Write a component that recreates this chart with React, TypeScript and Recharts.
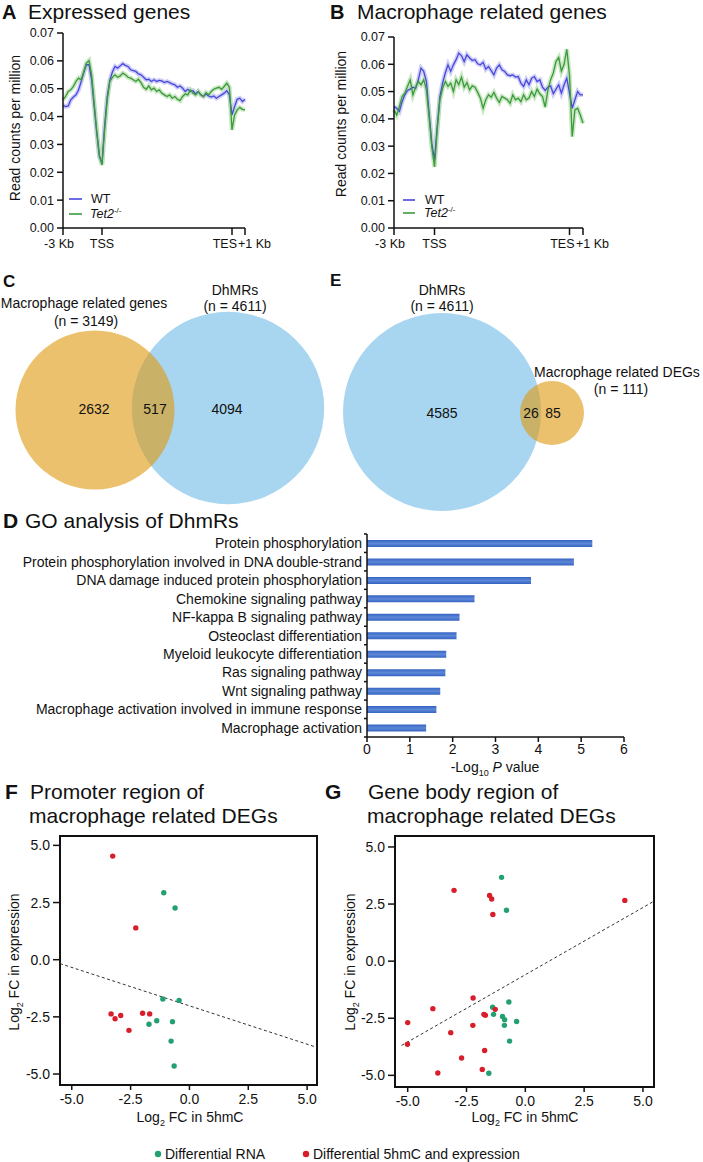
import React from 'react'
import {
  LineChart, Line, BarChart, Bar, ScatterChart, Scatter, XAxis, YAxis, ZAxis,
  ReferenceLine, ReferenceArea,
} from 'recharts'

const FONT = '"Liberation Sans", Arial, Helvetica, sans-serif'
const INK = '#111111'
const WT_BLUE = '#4747e0'
const WT_BAND = '#bdbdf3'
const TET_GREEN = '#3b9a3b'
const TET_BAND = '#b5dfae'
const VENN_BLUE = '#a8d6f0'
const VENN_ORANGE = '#df980d' // painted at 0.6 opacity, reads as light orange / olive overlap
const RNA_GREEN = '#23a070'
const BOTH_RED = '#d81e2a'

// ---- A / B: read density profiles. bins: -3 Kb..TSS = 0..30, gene body 30..130, TES..+1 Kb 130..140
const profileBins = [
  0, 2, 4, 6, 8, 10, 12, 14, 16, 18,
  20, 22, 24, 26, 28, 30, 32, 34, 36, 38,
  40, 42, 44, 46, 48, 50, 52, 54, 56, 58,
  60, 62, 64, 66, 68, 70, 72, 74, 76, 78,
  80, 82, 84, 86, 88, 90, 92, 94, 96, 98,
  100, 102, 104, 106, 108, 110, 112, 114, 116, 118,
  120, 122, 124, 126, 128, 130, 132, 134, 136, 138,
  140,
]
const regionTicks = [0, 30, 130, 140]
const regionTickLabels = ['-3 Kb', 'TSS', 'TES', '+1 Kb']
const rpmTicks = [0, 0.01, 0.02, 0.03, 0.04, 0.05, 0.06, 0.07]

const expressedWT = [
  0.0440, 0.0436, 0.0438, 0.0460, 0.0470, 0.0478, 0.0496, 0.0526, 0.0558, 0.0586,
  0.0586, 0.0532, 0.0436, 0.0340, 0.0256, 0.0232, 0.0364, 0.0470, 0.0530, 0.0560,
  0.0580, 0.0574, 0.0582, 0.0590, 0.0584, 0.0580, 0.0568, 0.0565, 0.0562, 0.0553,
  0.0550, 0.0541, 0.0532, 0.0534, 0.0526, 0.0532, 0.0526, 0.0530, 0.0528, 0.0522,
  0.0526, 0.0522, 0.0517, 0.0514, 0.0505, 0.0510, 0.0502, 0.0490, 0.0498, 0.0490,
  0.0493, 0.0481, 0.0490, 0.0478, 0.0472, 0.0481, 0.0474, 0.0470, 0.0474, 0.0466,
  0.0472, 0.0478, 0.0484, 0.0493, 0.0478, 0.0406, 0.0436, 0.0462, 0.0466, 0.0454,
  0.0462,
]
const expressedTet2 = [
  0.0460, 0.0472, 0.0490, 0.0496, 0.0508, 0.0526, 0.0538, 0.0532, 0.0562, 0.0592,
  0.0601, 0.0550, 0.0448, 0.0346, 0.0262, 0.0226, 0.0352, 0.0460, 0.0526, 0.0541,
  0.0550, 0.0541, 0.0546, 0.0556, 0.0550, 0.0541, 0.0538, 0.0532, 0.0526, 0.0534,
  0.0522, 0.0505, 0.0498, 0.0510, 0.0496, 0.0502, 0.0490, 0.0496, 0.0484, 0.0478,
  0.0472, 0.0478, 0.0466, 0.0472, 0.0462, 0.0457, 0.0472, 0.0481, 0.0478, 0.0496,
  0.0484, 0.0478, 0.0490, 0.0478, 0.0472, 0.0486, 0.0478, 0.0490, 0.0498, 0.0502,
  0.0505, 0.0498, 0.0508, 0.0520, 0.0505, 0.0352, 0.0406, 0.0424, 0.0433, 0.0426,
  0.0424,
]
const macrophageWT = [
  0.0445, 0.0439, 0.0427, 0.0463, 0.0488, 0.0504, 0.0509, 0.0516, 0.0512, 0.0543,
  0.0586, 0.0574, 0.0537, 0.0420, 0.0310, 0.0251, 0.0371, 0.0482, 0.0531, 0.0568,
  0.0598, 0.0574, 0.0598, 0.0617, 0.0641, 0.0631, 0.0610, 0.0635, 0.0623, 0.0614,
  0.0617, 0.0602, 0.0598, 0.0607, 0.0582, 0.0592, 0.0577, 0.0561, 0.0586, 0.0598,
  0.0580, 0.0574, 0.0561, 0.0558, 0.0561, 0.0553, 0.0555, 0.0531, 0.0519, 0.0543,
  0.0525, 0.0549, 0.0555, 0.0537, 0.0543, 0.0516, 0.0504, 0.0516, 0.0521, 0.0492,
  0.0509, 0.0525, 0.0494, 0.0525, 0.0549, 0.0494, 0.0439, 0.0470, 0.0500, 0.0488,
  0.0488,
]
const macrophageTet2 = [
  0.0433, 0.0414, 0.0445, 0.0482, 0.0494, 0.0519, 0.0543, 0.0488, 0.0516, 0.0537,
  0.0525, 0.0543, 0.0506, 0.0408, 0.0298, 0.0224, 0.0359, 0.0470, 0.0512, 0.0537,
  0.0519, 0.0531, 0.0500, 0.0543, 0.0525, 0.0553, 0.0516, 0.0533, 0.0506, 0.0521,
  0.0516, 0.0497, 0.0476, 0.0439, 0.0470, 0.0488, 0.0479, 0.0497, 0.0476, 0.0460,
  0.0482, 0.0476, 0.0470, 0.0457, 0.0488, 0.0470, 0.0476, 0.0463, 0.0488, 0.0470,
  0.0476, 0.0500, 0.0482, 0.0509, 0.0492, 0.0482, 0.0443, 0.0506, 0.0543, 0.0568,
  0.0610, 0.0625, 0.0575, 0.0600, 0.0655, 0.0560, 0.0335, 0.0433, 0.0439, 0.0414,
  0.0384,
]

// ---- C / E: Venn counts
const vennCSets = ['Macrophage related genes', 'DhMRs']
const vennCSizes = [3149, 4611]
const vennCCounts = [2632, 517, 4094] // only genes, shared, only DhMRs
const vennESets = ['DhMRs', 'Macrophage related DEGs']
const vennESizes = [4611, 111]
const vennECounts = [4585, 26, 85]

// circle centres of the Venn layouts (diagram units)
const vennCLayout = [{ x: 95, y: 140 }, { x: 228, y: 138 }]
const vennELayout = [{ x: 142, y: 142 }, { x: 252, y: 143 }]

// ---- D: GO enrichment
const goTerms = [
  'Protein phosphorylation',
  'Protein phosphorylation involved in DNA double-strand',
  'DNA damage induced protein phosphorylation',
  'Chemokine signaling pathway',
  'NF-kappa B signaling pathway',
  'Osteoclast differentiation',
  'Myeloid leukocyte differentiation',
  'Ras signaling pathway',
  'Wnt signaling pathway',
  'Macrophage activation involved in immune response',
  'Macrophage activation',
]
const goLogP = [5.26, 4.83, 3.83, 2.51, 2.16, 2.09, 1.85, 1.83, 1.71, 1.62, 1.38]
const goTicks = [0, 1, 2, 3, 4, 5, 6]

// ---- F / G: log2 FC in 5hmC vs log2 FC in expression
const fcTicks = [-5, -2.5, 0, 2.5, 5]

const promoterRnaX = [-1.09, -0.61, -1.13, -0.44, -1.39, -1.72, -0.72, -0.78, -0.65]
const promoterRnaY = [2.93, 2.26, -1.72, -1.78, -2.67, -2.82, -2.71, -3.56, -4.65]
const promoterBothX = [-3.26, -2.28, -3.33, -3.16, -2.92, -2.57, -1.99, -1.69]
const promoterBothY = [4.53, 1.39, -2.37, -2.58, -2.44, -3.09, -2.34, -2.37]
const promoterFit = [[-5.5, -0.17], [5.4, -3.83]]
const promoterDomainX = [-5.5, 5.42]
const promoterDomainY = [-5.48, 5.41]

const bodyRnaX = [-1.01, -0.8, -0.7, -1.39, -1.35, -0.97, -0.88, -0.37, -0.89, -0.67, -1.55]
const bodyRnaY = [3.67, 2.23, -1.79, -2.02, -2.33, -2.42, -2.56, -2.64, -2.81, -3.5, -4.91]
const bodyBothX = [-3.03, -1.52, -1.43, -1.38, 4.23, -2.22, -3.93, -1.28, -1.76, -1.7, -5.0, -2.23, -3.17, -5.01, -1.73, -2.71, -1.83, -3.72]
const bodyBothY = [3.1, 2.88, 2.72, 2.04, 2.66, -1.61, -2.08, -2.11, -2.33, -2.37, -2.69, -2.81, -3.13, -3.64, -3.91, -4.24, -4.74, -4.9]
const bodyFit = [[-5.26, -3.69], [5.46, 2.62]]
const bodyDomainX = [-5.54, 5.47]
const bodyDomainY = [-5.51, 5.48]

const axisStroke = { stroke: INK, strokeWidth: 1.5 }

function RegionTick(props: any) {
  const { x, y, payload } = props
  const i = regionTicks.indexOf(payload.value)
  const anchor = ['middle', 'middle', 'end', 'start'][i] as any
  const dx = [-4, 0, 5, -7][i]
  return (
    <text x={x + dx} y={y} dy="0.71em" textAnchor={anchor} fontSize={12.5} fill={INK}>
      {regionTickLabels[i]}
    </text>
  )
}

function ProfileChart({ wt, tet, width, yWidth, top, right }: any) {
  const data = profileBins.map((bin, i) => ({ bin, wt: wt[i], tet: tet[i] }))
  return (
    <LineChart width={width} height={260} data={data} margin={{ top, right, bottom: 0, left: 0 }}>
      <XAxis
        type="number" dataKey="bin" domain={[0, 140]} ticks={regionTicks} interval={0}
        tick={(p: any) => <RegionTick {...p} />} tickSize={7} tickMargin={4} height={32}
        axisLine={axisStroke} tickLine={axisStroke}
      />
      <YAxis
        type="number" domain={[0, 0.07]} ticks={rpmTicks} interval={0} width={yWidth}
        tickFormatter={(v: number) => v.toFixed(2)} tickSize={6} tickMargin={3}
        axisLine={axisStroke} tickLine={axisStroke} tick={{ fill: INK, fontSize: 12.5 }}
      />
      <Line type="linear" dataKey="wt" name="wt band" stroke={WT_BAND} strokeWidth={4.5} strokeOpacity={0.75} dot={false} isAnimationActive={false} />
      <Line type="linear" dataKey="tet" name="tet band" stroke={TET_BAND} strokeWidth={4.5} strokeOpacity={0.75} dot={false} isAnimationActive={false} />
      <Line type="linear" dataKey="wt" name="WT" stroke={WT_BLUE} strokeWidth={1.3} dot={false} isAnimationActive={false} />
      <Line type="linear" dataKey="tet" name="Tet2-/-" stroke={TET_GREEN} strokeWidth={1.3} dot={false} isAnimationActive={false} />
    </LineChart>
  )
}

const vennShape = (fill: string, opacity: number) => (p: any) => {
  const r = p.size != null ? Math.sqrt(p.size / Math.PI) : p.width / 2
  return <circle cx={p.cx} cy={p.cy} r={r} fill={fill} fillOpacity={opacity} />
}

function VennChart({ width, layout, sizes, blueIndex, zRange }: any) {
  const pts = sizes.map((z: number, i: number) => ({ ...layout[i], z }))
  const orangeIndex = 1 - blueIndex
  return (
    <ScatterChart width={width} height={260} margin={{ top: 0, right: 0, bottom: 0, left: 0 }}>
      <XAxis type="number" dataKey="x" domain={[0, width]} hide />
      <YAxis type="number" dataKey="y" domain={[0, 260]} reversed hide />
      <ZAxis type="number" dataKey="z" domain={[0, 4611]} range={zRange} />
      <Scatter data={[pts[blueIndex]]} shape={vennShape(VENN_BLUE, 1)} isAnimationActive={false} />
      <Scatter data={[pts[orangeIndex]]} shape={vennShape(VENN_ORANGE, 0.6)} isAnimationActive={false} />
    </ScatterChart>
  )
}

function GoTick(props: any) {
  const { x, y, payload, index } = props
  const half = 203 / goTerms.length / 2
  return (
    <g>
      <line x1={x + 2} x2={x + 5} y1={y - half} y2={y - half} stroke={INK} strokeWidth={1.5} />
      {index === goTerms.length - 1 && (
        <line x1={x + 2} x2={x + 5} y1={y + half} y2={y + half} stroke={INK} strokeWidth={1.5} />
      )}
      <text x={x} y={y} dy={5} textAnchor="end" fontSize={14} fill={INK}>{payload.value}</text>
    </g>
  )
}

function GoChart() {
  const data = goTerms.map((name, i) => ({ name, value: goLogP[i] }))
  return (
    <BarChart layout="vertical" width={640} height={232} data={data} margin={{ top: 4, right: 16, bottom: 0, left: 0 }}>
      <defs>
        <linearGradient id="goBar" x1="0" y1="0" x2="0" y2="1">
          <stop offset="0" stopColor="#3563c2" />
          <stop offset="0.5" stopColor="#5d88d8" />
          <stop offset="1" stopColor="#3563c2" />
        </linearGradient>
      </defs>
      <XAxis
        type="number" domain={[0, 6]} ticks={goTicks} interval={0} height={25}
        tickSize={5} tickMargin={2} axisLine={axisStroke} tickLine={axisStroke}
        tick={{ fill: INK, fontSize: 14 }}
      />
      <YAxis
        type="category" dataKey="name" width={367} interval={0}
        tickLine={false} tickSize={0} tickMargin={5} axisLine={axisStroke}
        tick={(p: any) => <GoTick {...p} />}
      />
      <Bar dataKey="value" fill="url(#goBar)" barSize={7} isAnimationActive={false} />
    </BarChart>
  )
}

const dot = (fill: string) => (p: any) => <circle cx={p.cx} cy={p.cy} r={2.7} fill={fill} />

function FcScatter({ rnaX, rnaY, bothX, bothY, fit, domX, domY, right, xHeight }: any) {
  const rna = rnaX.map((x: number, i: number) => ({ x, y: rnaY[i] }))
  const both = bothX.map((x: number, i: number) => ({ x, y: bothY[i] }))
  return (
    <ScatterChart width={330} height={300} margin={{ top: 6, right, bottom: 0, left: 0 }}>
      <XAxis
        type="number" dataKey="x" domain={domX} ticks={fcTicks} interval={0} allowDataOverflow
        tickFormatter={(v: number) => v.toFixed(1)} height={xHeight} tickSize={5} tickMargin={4}
        axisLine={false} tickLine={axisStroke} tick={{ fill: INK, fontSize: 14 }}
      />
      <YAxis
        type="number" dataKey="y" domain={domY} ticks={fcTicks} interval={0} allowDataOverflow
        tickFormatter={(v: number) => v.toFixed(1)} width={60} tickSize={7} tickMargin={3}
        axisLine={false} tickLine={axisStroke} tick={{ fill: INK, fontSize: 14 }}
      />
      <ReferenceArea x1={domX[0]} x2={domX[1]} y1={domY[0]} y2={domY[1]} fill="none" stroke={INK} strokeWidth={2} />
      <ReferenceLine
        segment={[{ x: fit[0][0], y: fit[0][1] }, { x: fit[1][0], y: fit[1][1] }]}
        stroke="#333" strokeWidth={1} strokeDasharray="3 2.5"
      />
      <Scatter data={rna} shape={dot(RNA_GREEN)} isAnimationActive={false} />
      <Scatter data={both} shape={dot(BOTH_RED)} isAnimationActive={false} />
    </ScatterChart>
  )
}

function T({ x, y, size = 14, anchor = 'start', weight = 400, children, rotate }: any) {
  const props: any = { fontSize: size, textAnchor: anchor, fontWeight: weight, fill: INK }
  if (rotate) return <text transform={`translate(${x},${y}) rotate(-90)`} {...props}>{children}</text>
  return <text x={x} y={y} {...props}>{children}</text>
}

const Log2 = () => (
  <>
    <tspan>Log</tspan>
    <tspan fontSize={9} dy={4}>2</tspan>
    <tspan dy={-4}> FC in </tspan>
  </>
)

export default function App() {
  return (
    <div style={{ position: 'relative', width: 703, height: 1162, background: '#fff', fontFamily: FONT, color: INK, overflow: 'hidden' }}>
      <style>{'body{margin:0}'}</style>

      <div style={{ position: 'absolute', left: 0, top: 0 }}>
        <ProfileChart wt={expressedWT} tet={expressedTet2} width={300} yWidth={63} top={33} right={55} />
      </div>
      <div style={{ position: 'absolute', left: 352, top: 0 }}>
        <ProfileChart wt={macrophageWT} tet={macrophageTet2} width={290} yWidth={42} top={37} right={59} />
      </div>

      <div style={{ position: 'absolute', left: 0, top: 270 }}>
        <VennChart width={350} layout={vennCLayout} sizes={vennCSizes} blueIndex={1} zRange={[0, 29073]} />
      </div>
      <div style={{ position: 'absolute', left: 300, top: 270 }}>
        <VennChart width={403} layout={vennELayout} sizes={vennESizes} blueIndex={0} zRange={[2537, 30791]} />
      </div>

      <div style={{ position: 'absolute', left: 0, top: 530 }}>
        <GoChart />
      </div>

      <div style={{ position: 'absolute', left: 0, top: 830 }}>
        <FcScatter rnaX={promoterRnaX} rnaY={promoterRnaY} bothX={promoterBothX} bothY={promoterBothY}
          fit={promoterFit} domX={promoterDomainX} domY={promoterDomainY} right={13} xHeight={45} />
      </div>
      <div style={{ position: 'absolute', left: 335, top: 830 }}>
        <FcScatter rnaX={bodyRnaX} rnaY={bodyRnaY} bothX={bodyBothX} bothY={bodyBothY}
          fit={bodyFit} domX={bodyDomainX} domY={bodyDomainY} right={11} xHeight={43} />
      </div>

      <svg width={703} height={1162} style={{ position: 'absolute', left: 0, top: 0, pointerEvents: 'none' }}>
        {/* A / B */}
        <T x={2} y={19} size={20} weight={700}>A</T>
        <T x={28} y={19} size={21}>Expressed genes</T>
        <T x={330} y={19} size={20} weight={700}>B</T>
        <T x={357} y={19} size={21}>Macrophage related genes</T>
        <T x={20} y={128} rotate anchor="middle">Read counts per million</T>
        <T x={346} y={124} rotate anchor="middle">Read counts per million</T>
        <line x1={69} x2={82} y1={199} y2={199} stroke={WT_BLUE} strokeWidth={1.6} />
        <T x={91} y={203} size={12.5}>WT</T>
        <line x1={69} x2={82} y1={214} y2={214} stroke={TET_GREEN} strokeWidth={1.6} />
        <T x={90} y={218} size={12.5}><tspan fontStyle="italic">Tet2</tspan><tspan fontSize={8} dy={-5}>-/-</tspan></T>
        <line x1={403} x2={415} y1={200} y2={200} stroke={WT_BLUE} strokeWidth={1.6} />
        <T x={425} y={204} size={12.5}>WT</T>
        <line x1={403} x2={415} y1={213} y2={213} stroke={TET_GREEN} strokeWidth={1.6} />
        <T x={424} y={217} size={12.5}><tspan fontStyle="italic">Tet2</tspan><tspan fontSize={8} dy={-5}>-/-</tspan></T>

        {/* C / E */}
        <T x={3} y={287} size={17} weight={700}>C</T>
        <T x={330} y={286} size={17} weight={700}>E</T>
        <T x={84} y={308} anchor="middle">{vennCSets[0]}</T>
        <T x={86} y={326} anchor="middle">{`(n = ${vennCSizes[0]})`}</T>
        <T x={235} y={295} anchor="middle">{vennCSets[1]}</T>
        <T x={235} y={311} anchor="middle">{`(n = ${vennCSizes[1]})`}</T>
        <T x={94} y={414} anchor="middle">{vennCCounts[0]}</T>
        <T x={155} y={414} anchor="middle">{vennCCounts[1]}</T>
        <T x={227} y={414} anchor="middle">{vennCCounts[2]}</T>
        <T x={442} y={295} anchor="middle">{vennESets[0]}</T>
        <T x={442} y={311} anchor="middle">{`(n = ${vennESizes[0]})`}</T>
        <T x={617} y={377} anchor="middle">{vennESets[1]}</T>
        <T x={621} y={394} anchor="middle">{`(n = ${vennESizes[1]})`}</T>
        <T x={442} y={418} anchor="middle">{vennECounts[0]}</T>
        <T x={531} y={418} anchor="middle">{vennECounts[1]}</T>
        <T x={553} y={418} anchor="middle">{vennECounts[2]}</T>

        {/* D */}
        <T x={3} y={528} size={21} weight={700}>D</T>
        <T x={25} y={528} size={21}>GO analysis of DhmRs</T>
        <T x={495} y={772} anchor="middle">
          <tspan>-Log</tspan><tspan fontSize={9} dy={4}>10</tspan><tspan dy={-4}> </tspan>
          <tspan fontStyle="italic">P</tspan><tspan> value</tspan>
        </T>

        {/* F / G */}
        <T x={5} y={799} size={21} weight={700}>F</T>
        <T x={30} y={799} size={21}>Promoter region of</T>
        <T x={29} y={823} size={21}>macrophage related DEGs</T>
        <T x={325} y={799} size={21} weight={700}>G</T>
        <T x={368} y={799} size={21}>Gene body region of</T>
        <T x={367} y={823} size={21}>macrophage related DEGs</T>
        <T x={19} y={962} rotate anchor="middle"><Log2 />expression</T>
        <T x={355} y={962} rotate anchor="middle"><Log2 />expression</T>
        <T x={190} y={1122} anchor="middle"><Log2 />5hmC</T>
        <T x={525} y={1122} anchor="middle"><Log2 />5hmC</T>

        <circle cx={158} cy={1154} r={3.2} fill={RNA_GREEN} />
        <T x={165} y={1159}>Differential RNA</T>
        <circle cx={306} cy={1154} r={3.2} fill={BOTH_RED} />
        <T x={313} y={1159}>Differential 5hmC and expression</T>
      </svg>
    </div>
  )
}
